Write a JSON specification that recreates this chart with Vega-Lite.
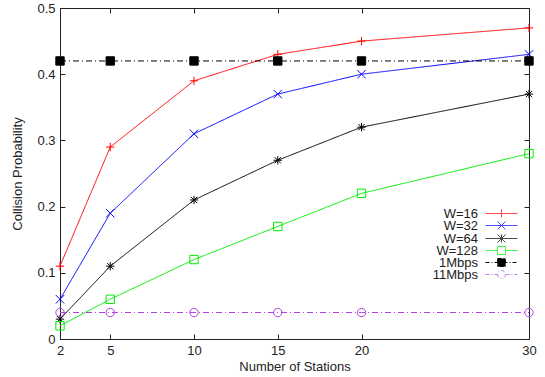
{
  "$schema": "https://vega.github.io/schema/vega-lite/v6.json",
  "width": 469,
  "height": 331,
  "autosize": "none",
  "padding": {"left": 60, "top": 8, "right": 16, "bottom": 38},
  "background": "white",
  "config": {
    "font": "Liberation Sans",
    "view": {"stroke": "#222", "strokeWidth": 1},
    "axis": {"grid": false, "domain": false, "tickColor": "#222", "tickSize": -5, "labelFontSize": 13, "titleFontSize": 13, "labelColor": "#222", "titleColor": "#222", "titleFontWeight": "normal", "labelFont": "Liberation Sans", "titleFont": "Liberation Sans"},
    "legend": {"labelFont": "Liberation Sans", "title": null, "orient": "none", "legendX": 435, "padding": 0, "labelAlign": "right", "labelOffset": -30, "labelFontSize": 13, "labelColor": "#222", "symbolSize": 64, "symbolStrokeWidth": 1, "labelLimit": 0}
  },
  "data": {"values": [
    {"n": 2, "p": 0.11, "series": "W=16"}, {"n": 5, "p": 0.29, "series": "W=16"}, {"n": 10, "p": 0.39, "series": "W=16"}, {"n": 15, "p": 0.43, "series": "W=16"}, {"n": 20, "p": 0.45, "series": "W=16"}, {"n": 30, "p": 0.47, "series": "W=16"},
    {"n": 2, "p": 0.06, "series": "W=32"}, {"n": 5, "p": 0.19, "series": "W=32"}, {"n": 10, "p": 0.31, "series": "W=32"}, {"n": 15, "p": 0.37, "series": "W=32"}, {"n": 20, "p": 0.40, "series": "W=32"}, {"n": 30, "p": 0.43, "series": "W=32"},
    {"n": 2, "p": 0.03, "series": "W=64"}, {"n": 5, "p": 0.11, "series": "W=64"}, {"n": 10, "p": 0.21, "series": "W=64"}, {"n": 15, "p": 0.27, "series": "W=64"}, {"n": 20, "p": 0.32, "series": "W=64"}, {"n": 30, "p": 0.37, "series": "W=64"},
    {"n": 2, "p": 0.02, "series": "W=128"}, {"n": 5, "p": 0.06, "series": "W=128"}, {"n": 10, "p": 0.12, "series": "W=128"}, {"n": 15, "p": 0.17, "series": "W=128"}, {"n": 20, "p": 0.22, "series": "W=128"}, {"n": 30, "p": 0.28, "series": "W=128"},
    {"n": 2, "p": 0.42, "series": "1Mbps"}, {"n": 5, "p": 0.42, "series": "1Mbps"}, {"n": 10, "p": 0.42, "series": "1Mbps"}, {"n": 15, "p": 0.42, "series": "1Mbps"}, {"n": 20, "p": 0.42, "series": "1Mbps"}, {"n": 30, "p": 0.42, "series": "1Mbps"},
    {"n": 2, "p": 0.04, "series": "11Mbps"}, {"n": 5, "p": 0.04, "series": "11Mbps"}, {"n": 10, "p": 0.04, "series": "11Mbps"}, {"n": 15, "p": 0.04, "series": "11Mbps"}, {"n": 20, "p": 0.04, "series": "11Mbps"}, {"n": 30, "p": 0.04, "series": "11Mbps"}
  ]},
  "resolve": {"axis": {"x": "independent", "y": "independent"}, "scale": {"color": "independent"}, "legend": {"color": "independent"}},
  "layer": [
    {
      "mark": {"type": "line", "strokeWidth": 1, "clip": false},
      "encoding": {
        "x": {"field": "n", "type": "quantitative", "scale": {"domain": [2, 30], "nice": false, "zero": false},
              "axis": {"title": "Number of Stations", "values": [2, 5, 10, 15, 20, 30], "labelPadding": 10, "titlePadding": 3, "labelFlush": false}},
        "y": {"field": "p", "type": "quantitative", "scale": {"domain": [0, 0.5], "nice": false},
              "axis": {"title": "Collision Probability", "values": [0, 0.1, 0.2, 0.3, 0.4, 0.5], "format": ".1~f", "labelPadding": 10, "titlePadding": 12, "labelFlush": false}},
        "color": {"field": "series", "type": "nominal",
                  "scale": {"domain": ["W=16", "W=32", "W=64", "W=128", "1Mbps", "11Mbps"], "range": ["#ff0000", "#0000ff", "#000000", "#00ee00", "#000000", "#b040e0"]},
                  "legend": null},
        "strokeDash": {"field": "series", "type": "nominal",
                  "scale": {"domain": ["W=16", "W=32", "W=64", "W=128", "1Mbps", "11Mbps"], "range": [[1, 0], [1, 0], [1, 0], [1, 0], [6, 3, 1, 3], [6, 3, 1, 3]]},
                  "legend": null}
      }
    },
    {
      "mark": {"type": "point", "filled": false, "strokeWidth": 1, "size": 70, "opacity": 1, "clip": false},
      "encoding": {
        "x": {"field": "n", "type": "quantitative", "scale": {"domain": [2, 30], "nice": false, "zero": false},
              "axis": {"orient": "top", "title": null, "values": [2, 5, 10, 15, 20, 30], "labels": false}},
        "y": {"field": "p", "type": "quantitative", "scale": {"domain": [0, 0.5], "nice": false},
              "axis": {"orient": "right", "title": null, "values": [0, 0.1, 0.2, 0.3, 0.4, 0.5], "labels": false}},
        "color": {"field": "series", "type": "nominal",
                  "scale": {"domain": ["W=16", "W=32", "W=64", "W=128", "1Mbps", "11Mbps"], "range": ["#ff0000", "#0000ff", "#000000", "#00ee00", "#000000", "#b040e0"]},
                  "legend": null},
        "shape": {"field": "series", "type": "nominal",
                  "scale": {"domain": ["W=16", "W=32", "W=64", "W=128", "1Mbps", "11Mbps"], "range": ["M-1,0L1,0M0,-1L0,1", "M-1,-1L1,1M-1,1L1,-1", "M-1,0L1,0M0,-1L0,1M-0.75,-0.75L0.75,0.75M-0.75,0.75L0.75,-0.75", "M-1,-1L1,-1L1,1L-1,1Z", "M-1,-1L1,-1L1,1L-1,1Z", "circle"]},
                  "legend": null},
        "fill": {"field": "series", "type": "nominal",
                  "scale": {"domain": ["W=16", "W=32", "W=64", "W=128", "1Mbps", "11Mbps"], "range": ["transparent", "transparent", "transparent", "transparent", "#000000", "transparent"]},
                  "legend": null}
      }
    },
    {
      "transform": [{"filter": "false"}],
      "mark": {"type": "point", "filled": false, "strokeWidth": 1},
      "encoding": {
        "x": {"field": "n", "type": "quantitative", "axis": null},
        "y": {"field": "p", "type": "quantitative", "axis": null},
        "color": {"field": "series", "type": "nominal", "scale": {"domain": ["W=16"], "range": ["#ff0000"]},
                  "legend": {"legendY": 199, "symbolType": "M-4,0L4,0M0,-1L0,1"}}
      }
    },
    {
      "transform": [{"filter": "false"}],
      "mark": {"type": "point", "filled": false, "strokeWidth": 1},
      "encoding": {
        "x": {"field": "n", "type": "quantitative", "axis": null},
        "y": {"field": "p", "type": "quantitative", "axis": null},
        "color": {"field": "series", "type": "nominal", "scale": {"domain": ["W=32"], "range": ["#0000ff"]},
                  "legend": {"legendY": 211, "symbolType": "M-4,0L4,0M-1,-1L1,1M-1,1L1,-1"}}
      }
    },
    {
      "transform": [{"filter": "false"}],
      "mark": {"type": "point", "filled": false, "strokeWidth": 1},
      "encoding": {
        "x": {"field": "n", "type": "quantitative", "axis": null},
        "y": {"field": "p", "type": "quantitative", "axis": null},
        "color": {"field": "series", "type": "nominal", "scale": {"domain": ["W=64"], "range": ["#000000"]},
                  "legend": {"legendY": 224, "symbolType": "M-4,0L4,0M0,-1L0,1M-1,-1L1,1M-1,1L1,-1"}}
      }
    },
    {
      "transform": [{"filter": "false"}],
      "mark": {"type": "point", "filled": false, "strokeWidth": 1},
      "encoding": {
        "x": {"field": "n", "type": "quantitative", "axis": null},
        "y": {"field": "p", "type": "quantitative", "axis": null},
        "color": {"field": "series", "type": "nominal", "scale": {"domain": ["W=128"], "range": ["#00ee00"]},
                  "legend": {"legendY": 236, "symbolType": "M-4,0L-1,0M1,0L4,0M-1,-1L1,-1L1,1L-1,1Z"}}
      }
    },
    {
      "transform": [{"filter": "false"}],
      "mark": {"type": "point", "filled": true, "strokeWidth": 1},
      "encoding": {
        "x": {"field": "n", "type": "quantitative", "axis": null},
        "y": {"field": "p", "type": "quantitative", "axis": null},
        "color": {"field": "series", "type": "nominal", "scale": {"domain": ["1Mbps"], "range": ["#000000"]},
                  "legend": {"legendY": 248, "symbolType": "M-4,0L4,0M-1,-1L1,-1L1,1L-1,1Z", "symbolStrokeColor": "#000000", "symbolDash": [4, 2, 1, 2], "symbolOpacity": 1}}
      }
    },
    {
      "transform": [{"filter": "false"}],
      "mark": {"type": "point", "filled": false, "strokeWidth": 1},
      "encoding": {
        "x": {"field": "n", "type": "quantitative", "axis": null},
        "y": {"field": "p", "type": "quantitative", "axis": null},
        "color": {"field": "series", "type": "nominal", "scale": {"domain": ["11Mbps"], "range": ["#b040e0"]},
                  "legend": {"legendY": 260, "symbolType": "M-4,0L-1,0M1,0L4,0M1,0A1,1,0,1,1,-1,0A1,1,0,1,1,1,0Z", "symbolDash": [4, 2, 1, 2]}}
      }
    }
  ]
}
